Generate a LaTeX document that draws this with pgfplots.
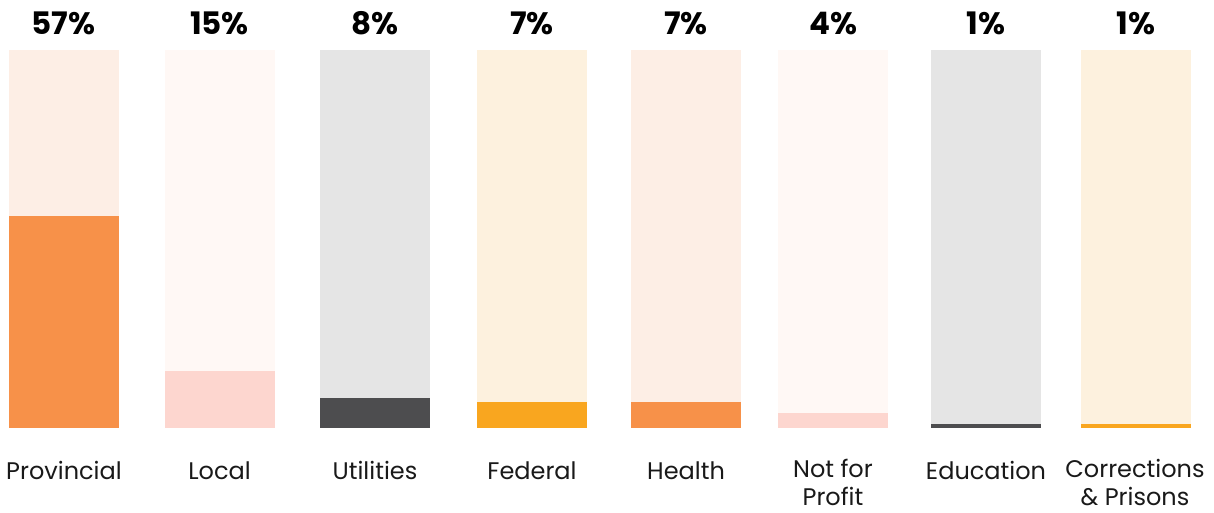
\documentclass[border=0pt]{standalone}
\usepackage{fontspec}
\setmainfont{Poppins}
\usepackage{pgfplots}
\pgfplotsset{compat=1.18}
\definecolor{cOrange}{HTML}{F79149}
\definecolor{bgOrange}{HTML}{FDEEE5}
\definecolor{cPink}{HTML}{FDD6CF}
\definecolor{bgPink}{HTML}{FFF8F5}
\definecolor{cDark}{HTML}{4D4D4F}
\definecolor{bgGray}{HTML}{E5E5E5}
\definecolor{cYellow}{HTML}{F9A61F}
\definecolor{bgCream}{HTML}{FDF1DE}
\begin{document}
\begin{tikzpicture}
\begin{axis}[
  scale only axis, width=1214pt, height=512pt,
  xmin=0, xmax=1214, ymin=-22.22, ymax=113.23,
  hide axis, clip=false,
]
% background bars (100%)
\addplot[ybar, bar width=110, fill=bgOrange, draw=none] coordinates {(63.5,100)};
\addplot[ybar, bar width=110, fill=bgPink,   draw=none] coordinates {(219.5,100)};
\addplot[ybar, bar width=110, fill=bgGray,   draw=none] coordinates {(375,100)};
\addplot[ybar, bar width=110, fill=bgCream,  draw=none] coordinates {(532,100)};
\addplot[ybar, bar width=110, fill=bgOrange, draw=none] coordinates {(686,100)};
\addplot[ybar, bar width=110, fill=bgPink,   draw=none] coordinates {(833,100)};
\addplot[ybar, bar width=110, fill=bgGray,   draw=none] coordinates {(986,100)};
\addplot[ybar, bar width=110, fill=bgCream,  draw=none] coordinates {(1136,100)};
% value bars
\addplot[ybar, bar width=110, fill=cOrange, draw=none] coordinates {(63.5,56)};
\addplot[ybar, bar width=110, fill=cPink,   draw=none] coordinates {(219.5,15)};
\addplot[ybar, bar width=110, fill=cDark,   draw=none] coordinates {(375,8)};
\addplot[ybar, bar width=110, fill=cYellow, draw=none] coordinates {(532,7)};
\addplot[ybar, bar width=110, fill=cOrange, draw=none] coordinates {(686,7)};
\addplot[ybar, bar width=110, fill=cPink,   draw=none] coordinates {(833,4)};
\addplot[ybar, bar width=110, fill=cDark,   draw=none] coordinates {(986,1)};
\addplot[ybar, bar width=110, fill=cYellow, draw=none] coordinates {(1136,1)};
% percent labels
\addplot[draw=none, mark=none, point meta=explicit symbolic, nodes near coords,
  nodes near coords style={anchor=base, inner sep=0pt, font=\fontsize{31}{36}\selectfont\bfseries, text=black}]
  coordinates {(63.5,104.23)[57\%] (219.5,104.23)[15\%] (375,104.23)[8\%] (532,104.23)[7\%]
    (686,104.23)[7\%] (833,104.23)[4\%] (986,104.23)[1\%] (1136,104.23)[1\%]};
% category labels
\addplot[draw=none, mark=none, point meta=explicit symbolic, nodes near coords,
  nodes near coords style={anchor=base, inner sep=0pt, align=center,
    font=\fontsize{24}{28}\selectfont, text=black!90}]
  coordinates {(64,-13.49)[Provincial] (219.5,-13.49)[Local] (375,-13.49)[Utilities]
    (532,-13.49)[Federal] (686,-13.49)[Health] (833,-20.6)[{Not for\\Profit}]
    (986,-13.49)[Education] (1135,-20.6)[{Corrections\\\& Prisons}]};
\end{axis}
\path (current axis.south west) (current axis.north east);
\end{tikzpicture}
\end{document}
